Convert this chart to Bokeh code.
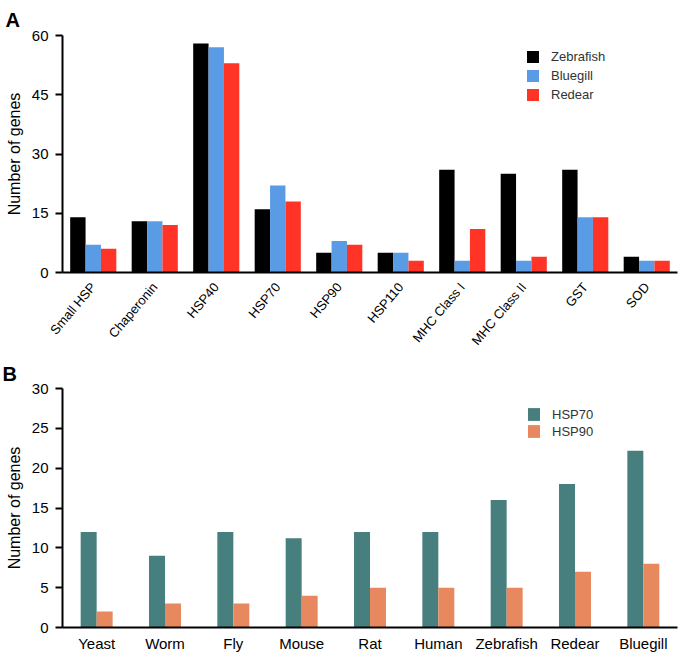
from bokeh.plotting import figure
from bokeh.models import FactorRange, Range1d
from bokeh.transform import dodge
from bokeh.layouts import column
from bokeh.embed import file_html
from bokeh.resources import INLINE
from bokeh.models import ColumnDataSource

# ---------------- data ----------------
genes = ["Small HSP", "Chaperonin", "HSP40", "HSP70", "HSP90", "HSP110",
         "MHC Class I", "MHC Class II", "GST", "SOD"]
zebrafish = [14, 13, 58, 16, 5, 5, 26, 25, 26, 4]
bluegill = [7, 13, 57, 22, 8, 5, 3, 3, 14, 3]
redear = [6, 12, 53, 18, 7, 3, 11, 4, 14, 3]
ticks_a = [0, 15, 30, 45, 60]

species = ["Yeast", "Worm", "Fly", "Mouse", "Rat", "Human", "Zebrafish", "Redear", "Bluegill"]
hsp70 = [12, 9, 12, 11.2, 12, 12, 16, 18, 22.2]
hsp90 = [2, 3, 3, 4, 5, 5, 5, 7, 8]
ticks_b = [0, 5, 10, 15, 20, 25, 30]

FONT = "Liberation Sans"


def style(p, ticks, ylab, standoff):
    p.xgrid.visible = False
    p.ygrid.visible = False
    p.outline_line_color = None
    p.yaxis.ticker = ticks
    p.yaxis.axis_label = ylab
    p.yaxis.axis_label_text_font = FONT
    p.yaxis.axis_label_text_font_size = "16px"
    p.yaxis.axis_label_text_font_style = "normal"
    p.yaxis.axis_label_text_color = "black"
    p.yaxis.axis_label_standoff = 6
    p.yaxis.major_label_text_font = FONT
    p.yaxis.major_label_text_font_size = "15px"
    p.yaxis.major_label_text_color = "black"
    p.yaxis.major_label_standoff = 7
    p.yaxis.axis_line_width = 2
    p.yaxis.axis_line_color = "black"
    p.yaxis.major_tick_line_width = 2
    p.yaxis.major_tick_line_color = "black"
    p.yaxis.major_tick_out = 7
    p.yaxis.major_tick_in = 0
    p.yaxis.minor_tick_line_color = None
    p.xaxis.axis_line_width = 2
    p.xaxis.axis_line_color = "black"
    p.xaxis.major_tick_line_color = None
    p.xaxis.major_tick_out = 0
    p.xaxis.major_tick_in = 0
    p.xaxis.minor_tick_line_color = None
    p.xaxis.major_label_text_font = FONT
    p.xaxis.major_label_text_color = "black"
    p.title.text_font = FONT
    p.title.text_font_size = "20px"
    p.title.text_font_style = "bold"
    p.title.text_color = "black"
    p.title.align = "left"
    if "standoff" in type(p.title).properties():
        p.title.standoff = standoff


def style_legend(p, loc, gh, sp):
    lg = p.legend[0]
    lg.location = loc
    lg.padding = 0
    lg.margin = 0
    lg.spacing = sp
    lg.glyph_width = 15
    lg.glyph_height = gh
    lg.label_height = gh
    lg.label_standoff = 11
    lg.label_text_font = FONT
    lg.label_text_font_size = "13px"
    lg.label_text_color = "#333333"
    lg.border_line_color = None
    lg.background_fill_alpha = 0


# ---------------- panel A ----------------
src_a = ColumnDataSource(dict(g=genes, z=zebrafish, b=bluegill, r=redear))
pa = figure(x_range=FactorRange(*genes), y_range=Range1d(0, 60),
            width=689, height=355, title="A",
            output_backend="svg", toolbar_location=None,
            min_border_left=59, min_border_right=12,
            min_border_top=35, min_border_bottom=83)
bw = 0.25
pa.vbar(x=dodge("g", -bw, range=pa.x_range), top="z", width=bw, source=src_a,
        color="#000000", line_color=None, legend_label="Zebrafish")
pa.vbar(x=dodge("g", 0, range=pa.x_range), top="b", width=bw, source=src_a,
        color="#5A9BE6", line_color=None, legend_label="Bluegill")
pa.vbar(x=dodge("g", bw, range=pa.x_range), top="r", width=bw, source=src_a,
        color="#FF3426", line_color=None, legend_label="Redear")
style(pa, ticks_a, "Number of genes", 10)
pa.xaxis.major_label_orientation = 0.87
pa.xaxis.major_label_text_font_size = "13px"
pa.xaxis.major_label_standoff = 12
pa.title.offset = -57
style_legend(pa, (463, 170), 15, 4)

# ---------------- panel B ----------------
src_b = ColumnDataSource(dict(s=species, h70=hsp70, h90=hsp90))
pb = figure(x_range=FactorRange(*species), y_range=Range1d(0, 30),
            width=689, height=299, title="B",
            output_backend="svg", toolbar_location=None,
            min_border_left=62, min_border_right=0,
            min_border_top=33, min_border_bottom=27)
bw2 = 0.234
pb.vbar(x=dodge("s", -bw2 / 2, range=pb.x_range), top="h70", width=bw2, source=src_b,
        color="#467F7E", line_color=None, legend_label="HSP70")
pb.vbar(x=dodge("s", bw2 / 2, range=pb.x_range), top="h90", width=bw2, source=src_b,
        color="#E8885E", line_color=None, legend_label="HSP90")
style(pb, ticks_b, "Number of genes", 8)
pb.xaxis.major_label_text_font_size = "15px"
pb.xaxis.major_label_standoff = 7
pb.title.offset = -60
style_legend(pb, (464, 188), 16, 1)

layout = column(pa, pb, spacing=0)
open("out.html", "w").write(file_html(layout, INLINE))
